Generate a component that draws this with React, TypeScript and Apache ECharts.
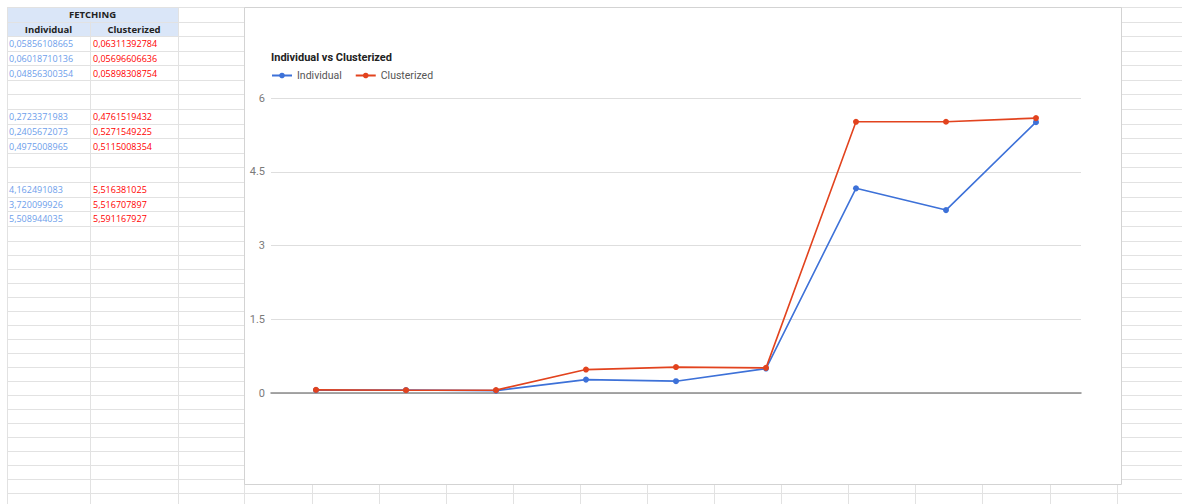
import React, { useEffect, useRef } from "react";
import * as echarts from "echarts";

// Test runs (x axis categories, labels not shown)
const runs = ["1", "2", "3", "4", "5", "6", "7", "8", "9"];
// Fetching time per run
const individual = [
  0.05856108665, 0.06018710136, 0.04856300354, 0.2723371983, 0.2405672073,
  0.4975008965, 4.162491083, 3.720099926, 5.508944035,
];
const clusterized = [
  0.06311392784, 0.05696606636, 0.05898308754, 0.4761519432, 0.5271549225,
  0.5115008354, 5.516381025, 5.516707897, 5.591167927,
];
const yTicks = { min: 0, max: 6, interval: 1.5 };
const sheetTitle = "FETCHING";
const columnHeaders = ["Individual", "Clusterized"];
const chartTitle = "Individual vs Clusterized";

// Sheet rows that hold values (counted from the first row under the headers)
const valueRowSlots = [0, 1, 2, 5, 6, 7, 10, 11, 12];

const BLUE = "#3d71d8";
const RED = "#e2431e";
const GRID = "#e2e2e2";

// y of the k-th horizontal sheet line
function rowLine(k: number): number {
  return k <= 15 ? 7 + k * 14.58 : 240.7 + (k - 16) * 14;
}
const crisp = (v: number) => Math.round(v) + 0.5;

function buildSheet(): any[] {
  const els: any[] = [];
  // header background
  els.push({
    type: "rect",
    z: -30,
    shape: { x: 7, y: 7, width: 171, height: rowLine(2) - 7 },
    style: { fill: "#dae6f8" },
  });
  // horizontal row lines
  for (let k = 0; k <= 34; k++) {
    const y = crisp(rowLine(k));
    els.push({
      type: "line",
      z: -20,
      shape: { x1: 7, y1: y, x2: 1182, y2: y },
      style: { stroke: GRID, lineWidth: 1 },
    });
  }
  // vertical column lines
  const cols = [7, 90, 178, 244];
  for (let x = 312; x < 1190; x += 67.05) cols.push(x);
  cols.forEach((x, i) => {
    const y1 = i === 1 ? rowLine(1) : 7;
    els.push({
      type: "line",
      z: -20,
      shape: { x1: crisp(x), y1, x2: crisp(x), y2: 504 },
      style: { stroke: GRID, lineWidth: 1 },
    });
  });
  // chart card
  els.push({
    type: "rect",
    z: -10,
    shape: { x: 244.5, y: 7.5, width: 877, height: 477 },
    style: { fill: "#ffffff", stroke: "#d3d3d3", lineWidth: 1 },
  });
  // header texts
  const mid = (k: number) => (rowLine(k) + rowLine(k + 1)) / 2;
  const txt = (text: string, x: number, y: number, fill: string, font: string, align: string) => ({
    type: "text",
    z: -5,
    style: {
      text,
      x,
      y,
      fill,
      font,
      align,
      textAlign: align,
      verticalAlign: "middle",
      textVerticalAlign: "middle",
    },
  });
  els.push(txt(sheetTitle, 92.5, mid(0) + 0.5, "#222", 'bold 9.5px "Open Sans"', "center"));
  els.push(txt(columnHeaders[0], 48.5, mid(1) + 0.5, "#222", 'bold 9.5px "Open Sans"', "center"));
  els.push(txt(columnHeaders[1], 134, mid(1) + 0.5, "#222", 'bold 9.5px "Open Sans"', "center"));
  valueRowSlots.forEach((slot, i) => {
    const y = mid(slot + 2) + 0.5;
    els.push(txt(String(individual[i]).replace(".", ","), 9, y, "#6d9eeb", '9px "Open Sans"', "left"));
    els.push(txt(String(clusterized[i]).replace(".", ","), 93, y, "#ff0000", '9px "Open Sans"', "left"));
  });
  return els;
}

export default function App() {
  const ref = useRef<HTMLDivElement>(null);
  useEffect(() => {
    if (!ref.current) return;
    const chart = echarts.init(ref.current, null, { renderer: "svg" });
    chart.setOption({
      animation: false,
      backgroundColor: "#ffffff",
      textStyle: { fontFamily: "Roboto" },
      title: {
        text: chartTitle,
        left: 271,
        top: 52,
        padding: 0,
        textStyle: { fontSize: 11, fontWeight: "bold", color: "#222", fontFamily: "Roboto" },
      },
      legend: {
        left: 271,
        top: 70,
        padding: 0,
        itemWidth: 20,
        itemHeight: 7,
        itemGap: 13,
        textStyle: { fontSize: 10.5, color: "#555", fontFamily: "Roboto" },
        data: ["Individual", "Clusterized"],
      },
      graphic: { elements: buildSheet() },
      grid: { left: 271, right: 101, top: 98, bottom: 111, containLabel: false },
      xAxis: {
        type: "category",
        data: runs,
        boundaryGap: true,
        z: 3,
        axisLine: { show: true, lineStyle: { color: "#8a8a8a", width: 1.5 } },
        axisTick: { show: false },
        axisLabel: { show: false },
        splitLine: { show: false },
      },
      yAxis: {
        type: "value",
        min: yTicks.min,
        max: yTicks.max,
        interval: yTicks.interval,
        z: 1,
        axisLine: { show: false },
        axisTick: { show: false },
        axisLabel: { color: "#7a7a7a", fontSize: 11, margin: 6, fontFamily: "Roboto" },
        splitLine: { lineStyle: { color: "#dedede", width: 1 } },
      },
      series: [
        {
          name: "Individual",
          type: "line",
          data: individual,
          color: BLUE,
          symbol: "circle",
          symbolSize: 6,
          lineStyle: { width: 1.6, color: BLUE },
          itemStyle: { color: BLUE },
          z: 4,
        },
        {
          name: "Clusterized",
          type: "line",
          data: clusterized,
          color: RED,
          symbol: "circle",
          symbolSize: 6,
          lineStyle: { width: 1.6, color: RED },
          itemStyle: { color: RED },
          z: 5,
        },
      ],
    });
    return () => chart.dispose();
  }, []);
  return (
    <div
      ref={ref}
      style={{ position: "absolute", left: 0, top: 0, width: 1182, height: 504 }}
    />
  );
}
